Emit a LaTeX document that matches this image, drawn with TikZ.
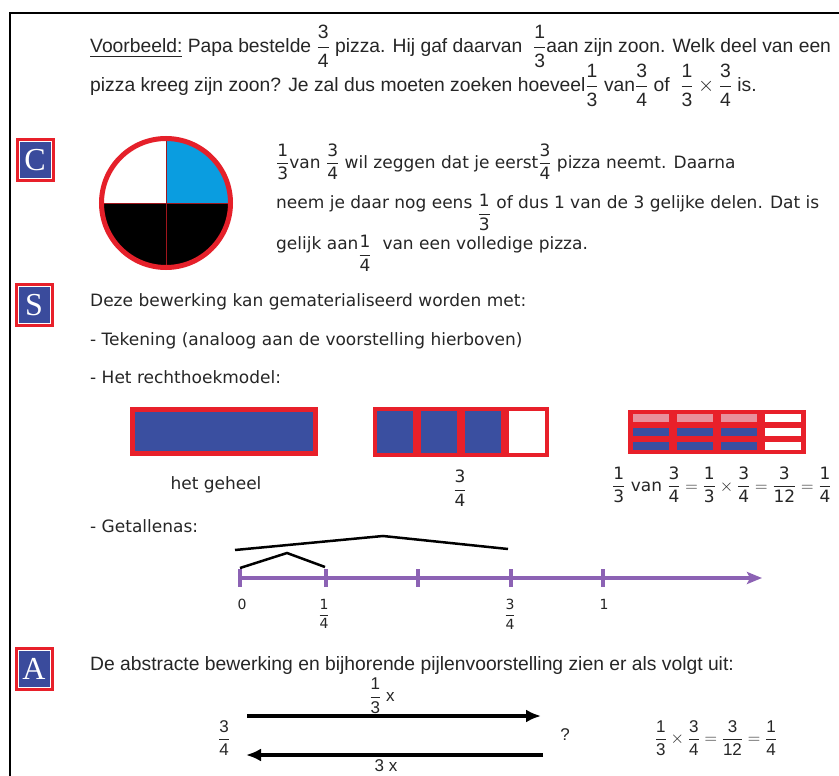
\documentclass[tikz,border=0pt]{standalone}
\usepackage{amsmath}
\usepackage{fontspec}
\usepackage{tikz}
\usetikzlibrary{arrows.meta}
\setmainfont{DejaVu Sans}
\newfontfamily\tahoma{Liberation Sans}
\newfontfamily\badgefont{Liberation Serif}

\definecolor{ink}{HTML}{262626}
\definecolor{pizzared}{HTML}{E5202A}
\definecolor{pizzablue}{HTML}{0A9DE0}
\definecolor{modelblue}{HTML}{3A4FA0}
\definecolor{modelred}{HTML}{E8202A}
\definecolor{modelpink}{HTML}{E8909C}
\definecolor{axispurple}{HTML}{8C62B4}
\definecolor{badgeblue}{HTML}{3A4B9C}

\newcommand{\fr}[2]{\ensuremath{\dfrac{\text{#1}}{\text{#2}}}}
\newcommand{\verd}{\fontsize{17}{20}\selectfont}
\newcommand{\tah}{\tahoma\fontsize{19.3}{22}\selectfont}

\tikzset{
  vline/.style={anchor=base west, inner sep=0pt, text=ink, font=\verd},
  tline/.style={anchor=base west, inner sep=0pt, text=ink, font=\tah},
  badge/.style={draw=modelred, line width=4pt, fill=badgeblue, minimum width=35pt,
    minimum height=40pt, inner sep=0pt, text=white, font=\badgefont\fontsize{32}{32}\selectfont},
  pizzadisc/.style={circle, minimum size=129pt, inner sep=0pt, draw=pizzared, line width=5pt,
    fill=white, path picture={
      \fill[black] (path picture bounding box.west) rectangle (path picture bounding box.south east);
      \fill[pizzablue] (path picture bounding box.center) rectangle (path picture bounding box.north east);
      \draw[pizzared!70!black, line width=0.8pt] (path picture bounding box.north) -- (path picture bounding box.south);
      \draw[pizzared!70!black, line width=0.8pt] (path picture bounding box.west) -- (path picture bounding box.east);
    }},
  wholebar/.style={draw=modelred, line width=5pt, fill=modelblue, minimum width=183pt,
    minimum height=44pt, inner sep=0pt},
  axis/.style={axispurple, line width=3.5pt, -{Stealth[length=15pt, width=12pt, inset=3pt]}},
  tick/.style={axispurple, line width=3.5pt},
  hop/.style={black, line width=2.5pt},
  bigarrow/.style={black, line width=4pt, -{Latex[length=15pt, width=13pt]}},
  small/.style={inner sep=0pt, text=ink, font=\fontsize{14}{16}\selectfont},
  alabel/.style={inner sep=0pt, text=ink, font=\tahoma\fontsize{17}{19}\selectfont}
}

\begin{document}
\begin{tikzpicture}[x=1pt, y=-1pt]
  \useasboundingbox (0,0) rectangle (839,776);
  \fill[white] (0,0) rectangle (839,776);
  \clip (0,0) rectangle (839,776);

  % frame
  \draw[line width=2pt] (10,776) |- (839,13);

  % voorbeeld
  \node[tline] (vb1) at (90,53) {\underline{Voorbeeld:} Papa bestelde \fr34 pizza. Hij gaf daarvan \ \fr13aan zijn zoon. Welk deel van een};
  \node[tline] (vb2) at (90,92) {pizza kreeg zijn zoon? Je zal dus moeten zoeken hoeveel\fr13 van\fr34 of \ $\fr13\times\fr34$ is.};

  % C
  \node[badge] (bC) at (35,160) {C};
  \node[pizzadisc] (pizza) at (166,203) {};
  \node[vline] (c1) at (276,168) {\fr13van \fr34 wil zeggen dat je eerst\fr34 pizza neemt. Daarna};
  \node[vline] (c2) at (276,208) {neem je daar nog eens \raisebox{-1.1ex}{\fr13} of dus 1 van de 3 gelijke delen. Dat is};
  \node[vline] (c3) at (276,249) {gelijk aan\raisebox{-1.1ex}{\fr14}\ \ van een volledige pizza.};

  % S
  \node[badge] (bS) at (34,305) {S};
  \node[vline] (s1) at (90,306) {Deze bewerking kan gematerialiseerd worden met:};
  \node[vline] (s2) at (90,345) {- Tekening (analoog aan de voorstelling hierboven)};
  \node[vline] (s3) at (90,383) {- Het rechthoekmodel:};

  % rechthoekmodel
  \node[wholebar] (geheel) at (224,431.5) {};
  \node[inner sep=0pt, text=ink, font=\verd] (lgeheel) at (216,485) {het geheel};

  \fill[modelred] (373,407) rectangle (549,457);
  \foreach \x in {377,421,465} \fill[modelblue] (\x,411) rectangle ++(36,42);
  \fill[white] (509,411) rectangle (545,453);
  \node[inner sep=0pt, text=ink, font=\verd] (lquarter) at (460,488) {\fr34};

  \fill[modelred] (628,410) rectangle (806,454);
  \foreach \x in {633,677,721} {
    \fill[modelpink] (\x,414) rectangle ++(36,8);
    \fill[modelblue] (\x,428) rectangle ++(36,8);
    \fill[modelblue] (\x,442) rectangle ++(36,8);
  }
  \foreach \y in {414,428,442} \fill[white] (765,\y) rectangle ++(36,8);
  \node[anchor=west, inner sep=0pt, text=ink, font=\verd] (ltwelfth) at (612,485)
    {$\fr13\text{ van }\fr34=\fr13\times\fr34=\fr3{12}=\fr14$};

  % getallenas
  \node[vline] (s4) at (90,532) {- Getallenas:};
  \coordinate (n0) at (238,578);
  \coordinate (nend) at (762,578);
  \draw[axis] (n0) -- (nend);
  \foreach \x in {240,326,418,511,603} \draw[tick] (\x,569) -- (\x,587);
  \draw[hop] (240,568) -- (287,553) -- (325,567);
  \draw[hop] (235,550) -- (383,536) -- (508,549);
  \node[small] (t0) at (242,604) {0};
  \node[small] (t1) at (324,614) {\fr14};
  \node[small] (t3) at (510,614) {\fr34};
  \node[small] (t4) at (604,604) {1};

  % A
  \node[badge] (bA) at (34,669) {A};
  \node[tline] (a1) at (90,670) {De abstracte bewerking en bijhorende pijlenvoorstelling zien er als volgt uit:};
  \node[alabel] (start) at (224,738) {\fr34};
  \node[alabel] (result) at (565,735) {?};
  \node[alabel] (op) at (382,696) {\fr13\ x};
  \node[alabel] (inv) at (386,766) {3 x};
  \node[alabel] (calc) at (716,738) {$\fr13\times\fr34=\fr3{12}=\fr14$};
  \coordinate (top0) at (247,716);
  \coordinate (top1) at (541,716);
  \coordinate (bot0) at (543,755);
  \coordinate (bot1) at (246,755);
  \draw[bigarrow] (top0) -- (top1);
  \draw[bigarrow] (bot0) -- (bot1);

  % witte binnenrand van de letters
  \foreach \b in {bC,bS,bA}
    \draw[white, line width=1pt] ([shift={(3.5,3.5)}]\b.north west) rectangle ([shift={(-3.5,-3.5)}]\b.south east);
\end{tikzpicture}
\end{document}
